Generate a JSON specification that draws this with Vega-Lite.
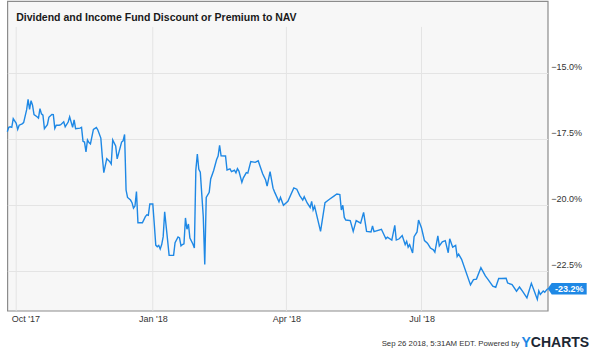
{
  "$schema": "https://vega.github.io/schema/vega-lite/v6.json",
  "width": 540.4,
  "height": 309.7,
  "autosize": "none",
  "padding": {"left": 7.3, "top": 1, "right": 52.3, "bottom": 42.3},
  "background": "white",
  "config": {
    "font": "Liberation Sans",
    "view": {"stroke": "#8c8c8c", "strokeWidth": 1.2, "fill": "#f7f7f7"},
    "axis": {"labelFont": "Liberation Sans", "titleFont": "Liberation Sans"}
  },
  "data": {"values": [
    {"date": "2017/09/25", "value": -17.22}, {"date": "2017/09/26", "value": -17.05}, {"date": "2017/09/27", "value": -17.03},
    {"date": "2017/09/28", "value": -17.05}, {"date": "2017/09/29", "value": -16.72}, {"date": "2017/10/01", "value": -16.90},
    {"date": "2017/10/02", "value": -17.13}, {"date": "2017/10/03", "value": -16.97}, {"date": "2017/10/05", "value": -16.92},
    {"date": "2017/10/06", "value": -16.87}, {"date": "2017/10/08", "value": -16.39}, {"date": "2017/10/09", "value": -15.99},
    {"date": "2017/10/10", "value": -16.37}, {"date": "2017/10/11", "value": -16.04}, {"date": "2017/10/12", "value": -16.21},
    {"date": "2017/10/13", "value": -16.57}, {"date": "2017/10/15", "value": -16.65}, {"date": "2017/10/16", "value": -16.70},
    {"date": "2017/10/17", "value": -16.34}, {"date": "2017/10/18", "value": -16.54}, {"date": "2017/10/19", "value": -16.59},
    {"date": "2017/10/20", "value": -17.10}, {"date": "2017/10/22", "value": -16.95}, {"date": "2017/10/23", "value": -16.67},
    {"date": "2017/10/25", "value": -16.56}, {"date": "2017/10/26", "value": -16.57}, {"date": "2017/10/27", "value": -17.09},
    {"date": "2017/10/28", "value": -16.97}, {"date": "2017/10/30", "value": -16.97}, {"date": "2017/10/31", "value": -16.95},
    {"date": "2017/11/02", "value": -16.84}, {"date": "2017/11/03", "value": -17.03}, {"date": "2017/11/05", "value": -16.85},
    {"date": "2017/11/06", "value": -16.65}, {"date": "2017/11/08", "value": -17.05}, {"date": "2017/11/09", "value": -16.77},
    {"date": "2017/11/10", "value": -17.10}, {"date": "2017/11/13", "value": -17.08}, {"date": "2017/11/14", "value": -17.05},
    {"date": "2017/11/15", "value": -17.58}, {"date": "2017/11/16", "value": -17.61}, {"date": "2017/11/17", "value": -17.98},
    {"date": "2017/11/18", "value": -17.53}, {"date": "2017/11/19", "value": -17.63}, {"date": "2017/11/20", "value": -17.68},
    {"date": "2017/11/22", "value": -17.13}, {"date": "2017/11/24", "value": -17.06}, {"date": "2017/11/25", "value": -17.15},
    {"date": "2017/11/27", "value": -17.46}, {"date": "2017/11/28", "value": -18.17}, {"date": "2017/11/29", "value": -18.77},
    {"date": "2017/12/01", "value": -18.24}, {"date": "2017/12/03", "value": -18.35}, {"date": "2017/12/04", "value": -18.44},
    {"date": "2017/12/05", "value": -17.53}, {"date": "2017/12/07", "value": -17.76}, {"date": "2017/12/08", "value": -18.25},
    {"date": "2017/12/11", "value": -17.61}, {"date": "2017/12/12", "value": -17.56}, {"date": "2017/12/13", "value": -17.32},
    {"date": "2017/12/14", "value": -19.43}, {"date": "2017/12/15", "value": -19.71}, {"date": "2017/12/17", "value": -19.81},
    {"date": "2017/12/18", "value": -19.91}, {"date": "2017/12/19", "value": -20.12}, {"date": "2017/12/20", "value": -20.04},
    {"date": "2017/12/21", "value": -19.49}, {"date": "2017/12/22", "value": -20.67}, {"date": "2017/12/25", "value": -20.67},
    {"date": "2017/12/27", "value": -20.44}, {"date": "2017/12/28", "value": -20.37}, {"date": "2017/12/29", "value": -20.39},
    {"date": "2017/12/30", "value": -19.96}, {"date": "2018/01/01", "value": -19.96}, {"date": "2018/01/02", "value": -20.72},
    {"date": "2018/01/03", "value": -21.52}, {"date": "2018/01/04", "value": -21.58}, {"date": "2018/01/05", "value": -21.53},
    {"date": "2018/01/06", "value": -21.67}, {"date": "2018/01/07", "value": -21.50}, {"date": "2018/01/08", "value": -21.20},
    {"date": "2018/01/09", "value": -20.26}, {"date": "2018/01/11", "value": -21.35}, {"date": "2018/01/12", "value": -21.91},
    {"date": "2018/01/15", "value": -21.91}, {"date": "2018/01/16", "value": -21.43}, {"date": "2018/01/18", "value": -21.21},
    {"date": "2018/01/19", "value": -21.25}, {"date": "2018/01/20", "value": -21.55}, {"date": "2018/01/21", "value": -21.50},
    {"date": "2018/01/22", "value": -21.47}, {"date": "2018/01/23", "value": -20.49}, {"date": "2018/01/24", "value": -20.92},
    {"date": "2018/01/25", "value": -20.72}, {"date": "2018/01/26", "value": -21.25}, {"date": "2018/01/28", "value": -21.48},
    {"date": "2018/01/29", "value": -21.63}, {"date": "2018/01/30", "value": -18.67}, {"date": "2018/01/31", "value": -18.07},
    {"date": "2018/02/01", "value": -18.64}, {"date": "2018/02/02", "value": -18.75}, {"date": "2018/02/04", "value": -20.44},
    {"date": "2018/02/05", "value": -22.26}, {"date": "2018/02/06", "value": -19.71}, {"date": "2018/02/08", "value": -19.52},
    {"date": "2018/02/09", "value": -19.01}, {"date": "2018/02/11", "value": -18.69}, {"date": "2018/02/13", "value": -18.27},
    {"date": "2018/02/14", "value": -18.14}, {"date": "2018/02/15", "value": -17.73}, {"date": "2018/02/16", "value": -18.13},
    {"date": "2018/02/19", "value": -18.14}, {"date": "2018/02/20", "value": -18.67}, {"date": "2018/02/22", "value": -18.63},
    {"date": "2018/02/23", "value": -18.73}, {"date": "2018/02/25", "value": -18.68}, {"date": "2018/02/26", "value": -18.78},
    {"date": "2018/02/27", "value": -18.62}, {"date": "2018/02/28", "value": -18.71}, {"date": "2018/03/02", "value": -19.14},
    {"date": "2018/03/03", "value": -18.97}, {"date": "2018/03/05", "value": -18.77}, {"date": "2018/03/06", "value": -18.79},
    {"date": "2018/03/08", "value": -18.35}, {"date": "2018/03/11", "value": -18.38}, {"date": "2018/03/13", "value": -18.32},
    {"date": "2018/03/16", "value": -18.81}, {"date": "2018/03/18", "value": -19.05}, {"date": "2018/03/19", "value": -19.28},
    {"date": "2018/03/21", "value": -18.73}, {"date": "2018/03/23", "value": -19.36}, {"date": "2018/03/24", "value": -19.50},
    {"date": "2018/03/27", "value": -19.88}, {"date": "2018/03/28", "value": -19.71}, {"date": "2018/03/30", "value": -20.01},
    {"date": "2018/04/02", "value": -19.86}, {"date": "2018/04/06", "value": -19.35}, {"date": "2018/04/08", "value": -19.40},
    {"date": "2018/04/10", "value": -19.64}, {"date": "2018/04/12", "value": -19.81}, {"date": "2018/04/13", "value": -19.68},
    {"date": "2018/04/15", "value": -19.92}, {"date": "2018/04/17", "value": -20.09}, {"date": "2018/04/18", "value": -19.86},
    {"date": "2018/04/19", "value": -20.19}, {"date": "2018/04/20", "value": -20.05}, {"date": "2018/04/24", "value": -21.00},
    {"date": "2018/04/27", "value": -19.91}, {"date": "2018/04/30", "value": -19.78}, {"date": "2018/05/03", "value": -19.66},
    {"date": "2018/05/05", "value": -19.58}, {"date": "2018/05/07", "value": -19.60}, {"date": "2018/05/08", "value": -20.19},
    {"date": "2018/05/09", "value": -20.01}, {"date": "2018/05/10", "value": -20.47}, {"date": "2018/05/11", "value": -20.57},
    {"date": "2018/05/14", "value": -20.59}, {"date": "2018/05/16", "value": -21.00}, {"date": "2018/05/18", "value": -20.59},
    {"date": "2018/05/21", "value": -20.69}, {"date": "2018/05/23", "value": -20.28}, {"date": "2018/05/25", "value": -21.00},
    {"date": "2018/05/28", "value": -21.02}, {"date": "2018/05/29", "value": -20.79}, {"date": "2018/05/30", "value": -21.01},
    {"date": "2018/06/04", "value": -20.92}, {"date": "2018/06/07", "value": -21.28}, {"date": "2018/06/08", "value": -21.22},
    {"date": "2018/06/11", "value": -21.33}, {"date": "2018/06/13", "value": -20.77}, {"date": "2018/06/14", "value": -21.33},
    {"date": "2018/06/16", "value": -21.28}, {"date": "2018/06/18", "value": -21.16}, {"date": "2018/06/20", "value": -21.50},
    {"date": "2018/06/21", "value": -21.38}, {"date": "2018/06/22", "value": -21.60}, {"date": "2018/06/23", "value": -21.50},
    {"date": "2018/06/25", "value": -21.82}, {"date": "2018/06/26", "value": -21.20}, {"date": "2018/06/28", "value": -21.02},
    {"date": "2018/06/29", "value": -20.57}, {"date": "2018/07/01", "value": -20.87}, {"date": "2018/07/03", "value": -21.35},
    {"date": "2018/07/05", "value": -21.45}, {"date": "2018/07/07", "value": -21.63}, {"date": "2018/07/09", "value": -21.70},
    {"date": "2018/07/10", "value": -21.79}, {"date": "2018/07/12", "value": -21.17}, {"date": "2018/07/13", "value": -21.55},
    {"date": "2018/07/15", "value": -21.40}, {"date": "2018/07/17", "value": -21.35}, {"date": "2018/07/19", "value": -21.81},
    {"date": "2018/07/20", "value": -21.28}, {"date": "2018/07/22", "value": -21.60}, {"date": "2018/07/24", "value": -21.53},
    {"date": "2018/07/25", "value": -21.95}, {"date": "2018/07/26", "value": -21.86}, {"date": "2018/07/28", "value": -22.06},
    {"date": "2018/08/03", "value": -23.03}, {"date": "2018/08/05", "value": -22.83}, {"date": "2018/08/07", "value": -22.81},
    {"date": "2018/08/10", "value": -22.38}, {"date": "2018/08/13", "value": -22.69}, {"date": "2018/08/15", "value": -22.84},
    {"date": "2018/08/18", "value": -23.08}, {"date": "2018/08/20", "value": -23.12}, {"date": "2018/08/22", "value": -22.79},
    {"date": "2018/08/24", "value": -22.79}, {"date": "2018/08/27", "value": -22.78}, {"date": "2018/08/28", "value": -22.96},
    {"date": "2018/08/31", "value": -23.02}, {"date": "2018/09/03", "value": -23.27}, {"date": "2018/09/05", "value": -23.11},
    {"date": "2018/09/07", "value": -23.27}, {"date": "2018/09/10", "value": -23.52}, {"date": "2018/09/13", "value": -22.97},
    {"date": "2018/09/15", "value": -23.27}, {"date": "2018/09/17", "value": -23.58}, {"date": "2018/09/18", "value": -23.26},
    {"date": "2018/09/19", "value": -23.39}, {"date": "2018/09/21", "value": -23.26}, {"date": "2018/09/22", "value": -23.31},
    {"date": "2018/09/24", "value": -23.17}
  ]},
  "resolve": {"axis": {"x": "independent", "y": "independent"}},
  "layer": [
    {
      "data": {"values": [{"g": "2017/10/01"}, {"g": "2018/01/01"}, {"g": "2018/04/01"}, {"g": "2018/07/01"}]},
      "mark": {"type": "rule", "color": "#e4e4e4", "strokeWidth": 1},
      "encoding": {
        "x": {"field": "g", "type": "temporal", "scale": {"domain": [{"year": 2017, "month": 9, "date": 25}, {"year": 2018, "month": 9, "date": 24}], "nice": false}, "axis": null},
        "y": {"datum": -24.01, "type": "quantitative", "scale": {"domain": [-24.01, -12.256], "nice": false, "zero": false}, "axis": null},
        "y2": {"datum": -13.24}
      }
    },
    {
      "mark": {"type": "line", "color": "#1e88e5", "strokeWidth": 1.4},
      "encoding": {
        "x": {
          "field": "date", "type": "temporal",
          "scale": {"domain": [{"year": 2017, "month": 9, "date": 25}, {"year": 2018, "month": 9, "date": 24}], "nice": false},
          "axis": {
            "orient": "bottom",
            "values": [{"year": 2017, "month": 10, "date": 1}, {"year": 2018, "month": 1, "date": 1}, {"year": 2018, "month": 4, "date": 1}, {"year": 2018, "month": 7, "date": 1}],
            "format": "%b '%y", "ticks": false, "domain": false, "grid": false,
            "labelFontSize": 9, "labelColor": "#333333", "labelPadding": 4,
            "labelFlush": 10, "labelFlushOffset": 5,
            "title": "Sep 26 2018, 5:31AM EDT.  Powered by",
            "titleFontSize": 7.8, "titleFontWeight": "normal", "titleColor": "#333333",
            "titleX": 511.7, "titleY": 34.5, "titleAlign": "right", "titleBaseline": "alphabetic"
          }
        },
        "y": {
          "field": "value", "type": "quantitative",
          "scale": {"domain": [-24.01, -12.256], "nice": false, "zero": false},
          "axis": {
            "orient": "right", "values": [-15, -17.5, -20, -22.5],
            "labelExpr": "format(datum.value, '.1f') + '%'",
            "ticks": false, "domain": false, "grid": true, "gridColor": "#e4e4e4",
            "labelPadding": 3, "labelFontSize": 9, "labelColor": "#333333",
            "labelBaseline": "alphabetic", "labelOffset": -3.5, "labelAlign": "left",
            "title": "Dividend and Income Fund Discount or Premium to NAV",
            "titleAngle": 0, "titleX": -532, "titleY": 19, "titleAlign": "left", "titleBaseline": "alphabetic",
            "titleFontSize": 10.5, "titleFontWeight": "bold", "titleColor": "#1a1a1a"
          }
        }
      }
    },
    {
      "transform": [{"filter": {"field": "date", "equal": {"year": 2018, "month": 9, "date": 24}}}],
      "mark": {"type": "point", "shape": "M0,0L4,-5.5L39,-5.5L39,6L4,6Z", "size": 4, "filled": true, "color": "#1e88e5", "opacity": 1},
      "encoding": {
        "x": {
          "field": "date", "type": "temporal",
          "scale": {"domain": [{"year": 2017, "month": 9, "date": 25}, {"year": 2018, "month": 9, "date": 24}], "nice": false},
          "axis": {"orient": "bottom", "labels": false, "ticks": false, "domain": false, "grid": false, "title": "Y", "titleColor": "#1e88e5", "titleFontSize": 14, "titleFontWeight": "bold", "titleX": 513.7, "titleY": 36, "titleAlign": "left", "titleBaseline": "alphabetic"}
        },
        "y": {"field": "value", "type": "quantitative", "scale": {"domain": [-24.01, -12.256], "nice": false, "zero": false}, "axis": null}
      }
    },
    {
      "transform": [{"filter": {"field": "date", "equal": {"year": 2018, "month": 9, "date": 24}}}],
      "mark": {"type": "text", "color": "white", "fontWeight": "bold", "fontSize": 9, "align": "center", "baseline": "middle", "dx": 21.5, "dy": 0.5},
      "encoding": {
        "x": {
          "field": "date", "type": "temporal",
          "scale": {"domain": [{"year": 2017, "month": 9, "date": 25}, {"year": 2018, "month": 9, "date": 24}], "nice": false},
          "axis": {"orient": "bottom", "labels": false, "ticks": false, "domain": false, "grid": false, "title": "CHARTS", "titleColor": "#1c2733", "titleFontSize": 14, "titleFontWeight": "bold", "titleX": 523, "titleY": 36, "titleAlign": "left", "titleBaseline": "alphabetic"}
        },
        "y": {"field": "value", "type": "quantitative", "scale": {"domain": [-24.01, -12.256], "nice": false, "zero": false}, "axis": null},
        "text": {"value": "-23.2%"}
      }
    }
  ]
}
